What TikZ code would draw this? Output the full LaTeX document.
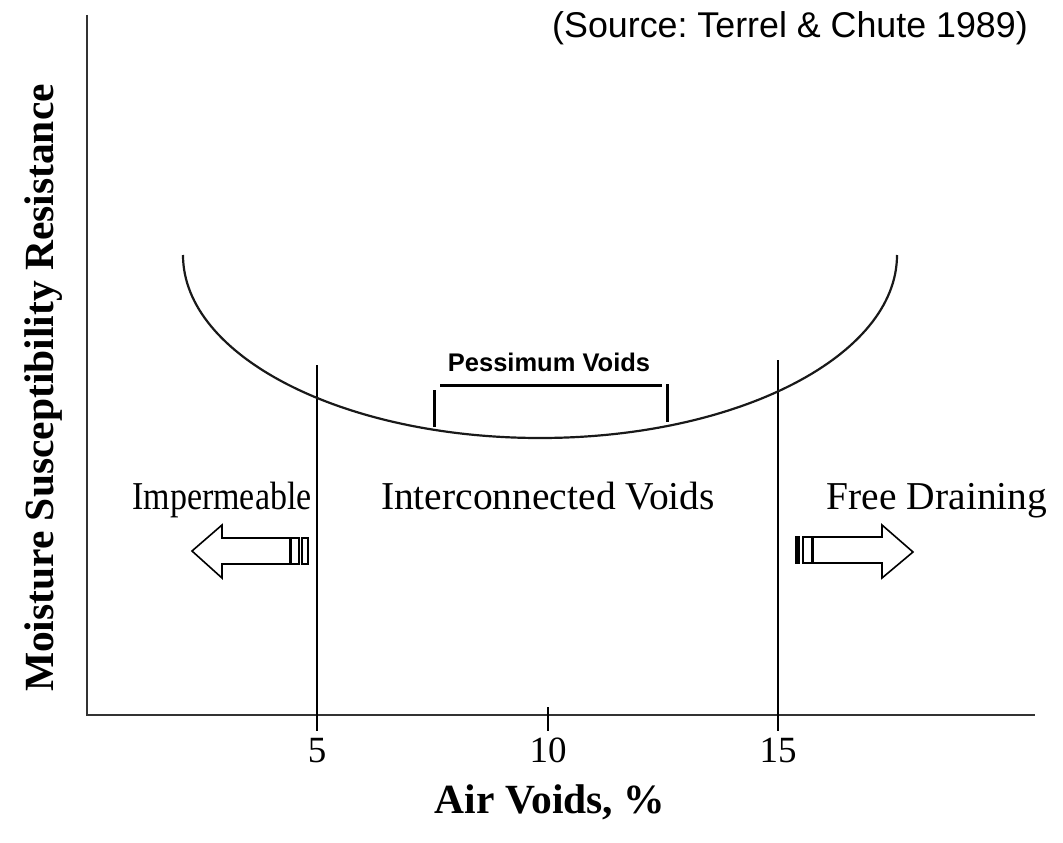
\documentclass[tikz,border=0pt]{standalone}
\usepackage{graphicx}
\usepackage{fontspec}
\setmainfont{Liberation Serif}
\newfontfamily\arialfont{Liberation Sans}
\frenchspacing
\begin{document}
\begin{tikzpicture}[x=1pt,y=-1pt,
  axisline/.style={line width=2.6pt, black!80},
  guideline/.style={line width=2pt, black},
  curveline/.style={line width=2.2pt, black!90},
  bracketline/.style={line width=3pt, black},
  fatarrow/.style={line width=1.6pt, black, fill=white, line join=miter},
  serifbig/.style={inner sep=0pt, anchor=base, font=\fontsize{39.5}{42}\selectfont},
  tick/.style={inner sep=0pt, anchor=base, font=\fontsize{37}{40}\selectfont},
  boldlabel/.style={inner sep=0pt, anchor=base, font=\bfseries\fontsize{41.5}{44}\selectfont},
  sanslabel/.style={inner sep=0pt, anchor=base, font=\arialfont\fontsize{35.8}{40}\selectfont},
  sansbold/.style={inner sep=0pt, anchor=base, font=\arialfont\bfseries\fontsize{25.5}{28}\selectfont}]
\useasboundingbox (0,0) rectangle (1063,843);
% axes
\coordinate (ytop) at (87,15);
\coordinate (origin) at (87,715);
\coordinate (xend) at (1035,715);
\draw[axisline] (ytop) -- (origin) -- (xend);
% ticks and guide lines
\coordinate (g5top) at (317,365);
\coordinate (g5bot) at (317,731);
\coordinate (g15top) at (778,360);
\coordinate (g15bot) at (778,731);
\coordinate (t10top) at (548,707);
\coordinate (t10bot) at (548,731);
\draw[guideline] (g5top) -- (g5bot);
\draw[guideline] (g15top) -- (g15bot);
\draw[guideline] (t10top) -- (t10bot);
% tick labels
\node[tick] (l5) at (317,762) {5};
\node[tick] (l10) at (548,762) {10};
\node[tick] (l15) at (778,762) {15};
% axis titles
\node[boldlabel] (xlabel) at (550,813) {Air Voids, \%};
\node[boldlabel, rotate=90] (ylabel) at (53,388) {Moisture Susceptibility Resistance};
% source
\node[sanslabel] (source) at (790,38) {(Source: Terrel \& Chute 1989)};
% curve
\coordinate (cleft) at (183,255);
\draw[curveline] (cleft) arc[start angle=180, end angle=0, x radius=357, y radius=183];
% pessimum bracket
\node[sansbold] (pess) at (549,371) {Pessimum Voids};
\coordinate (bl) at (440,385);
\coordinate (br) at (662,385);
\draw[bracketline] (bl) -- (br);
\coordinate (vl1) at (434,390);
\coordinate (vl2) at (434,427);
\coordinate (vr1) at (667,384);
\coordinate (vr2) at (667,422);
\draw[bracketline] (vl1) -- (vl2);
\draw[bracketline] (vr1) -- (vr2);
% region labels
\node[serifbig] (imp) at (222,509) {\scalebox{0.86}[1]{Impermeable}};
\node[serifbig] (inter) at (548,509) {Interconnected Voids};
\node[serifbig] (free) at (937,509) {Free Draining};
% left arrow
\draw[fatarrow] (192,551) -- (222,525) -- (222,538) -- (290,538) -- (290,564) -- (222,564) -- (222,578) -- cycle;
\draw[fatarrow] (291,538) rectangle (299,564);
\draw[fatarrow] (302,538) rectangle (308,564);
% right arrow
\draw[fatarrow] (913,552) -- (882,525) -- (882,537) -- (813,537) -- (813,563) -- (882,563) -- (882,578) -- cycle;
\draw[fatarrow] (803,537) rectangle (812,563);
\fill[black] (795,536) rectangle (800,564);
\end{tikzpicture}
\end{document}
